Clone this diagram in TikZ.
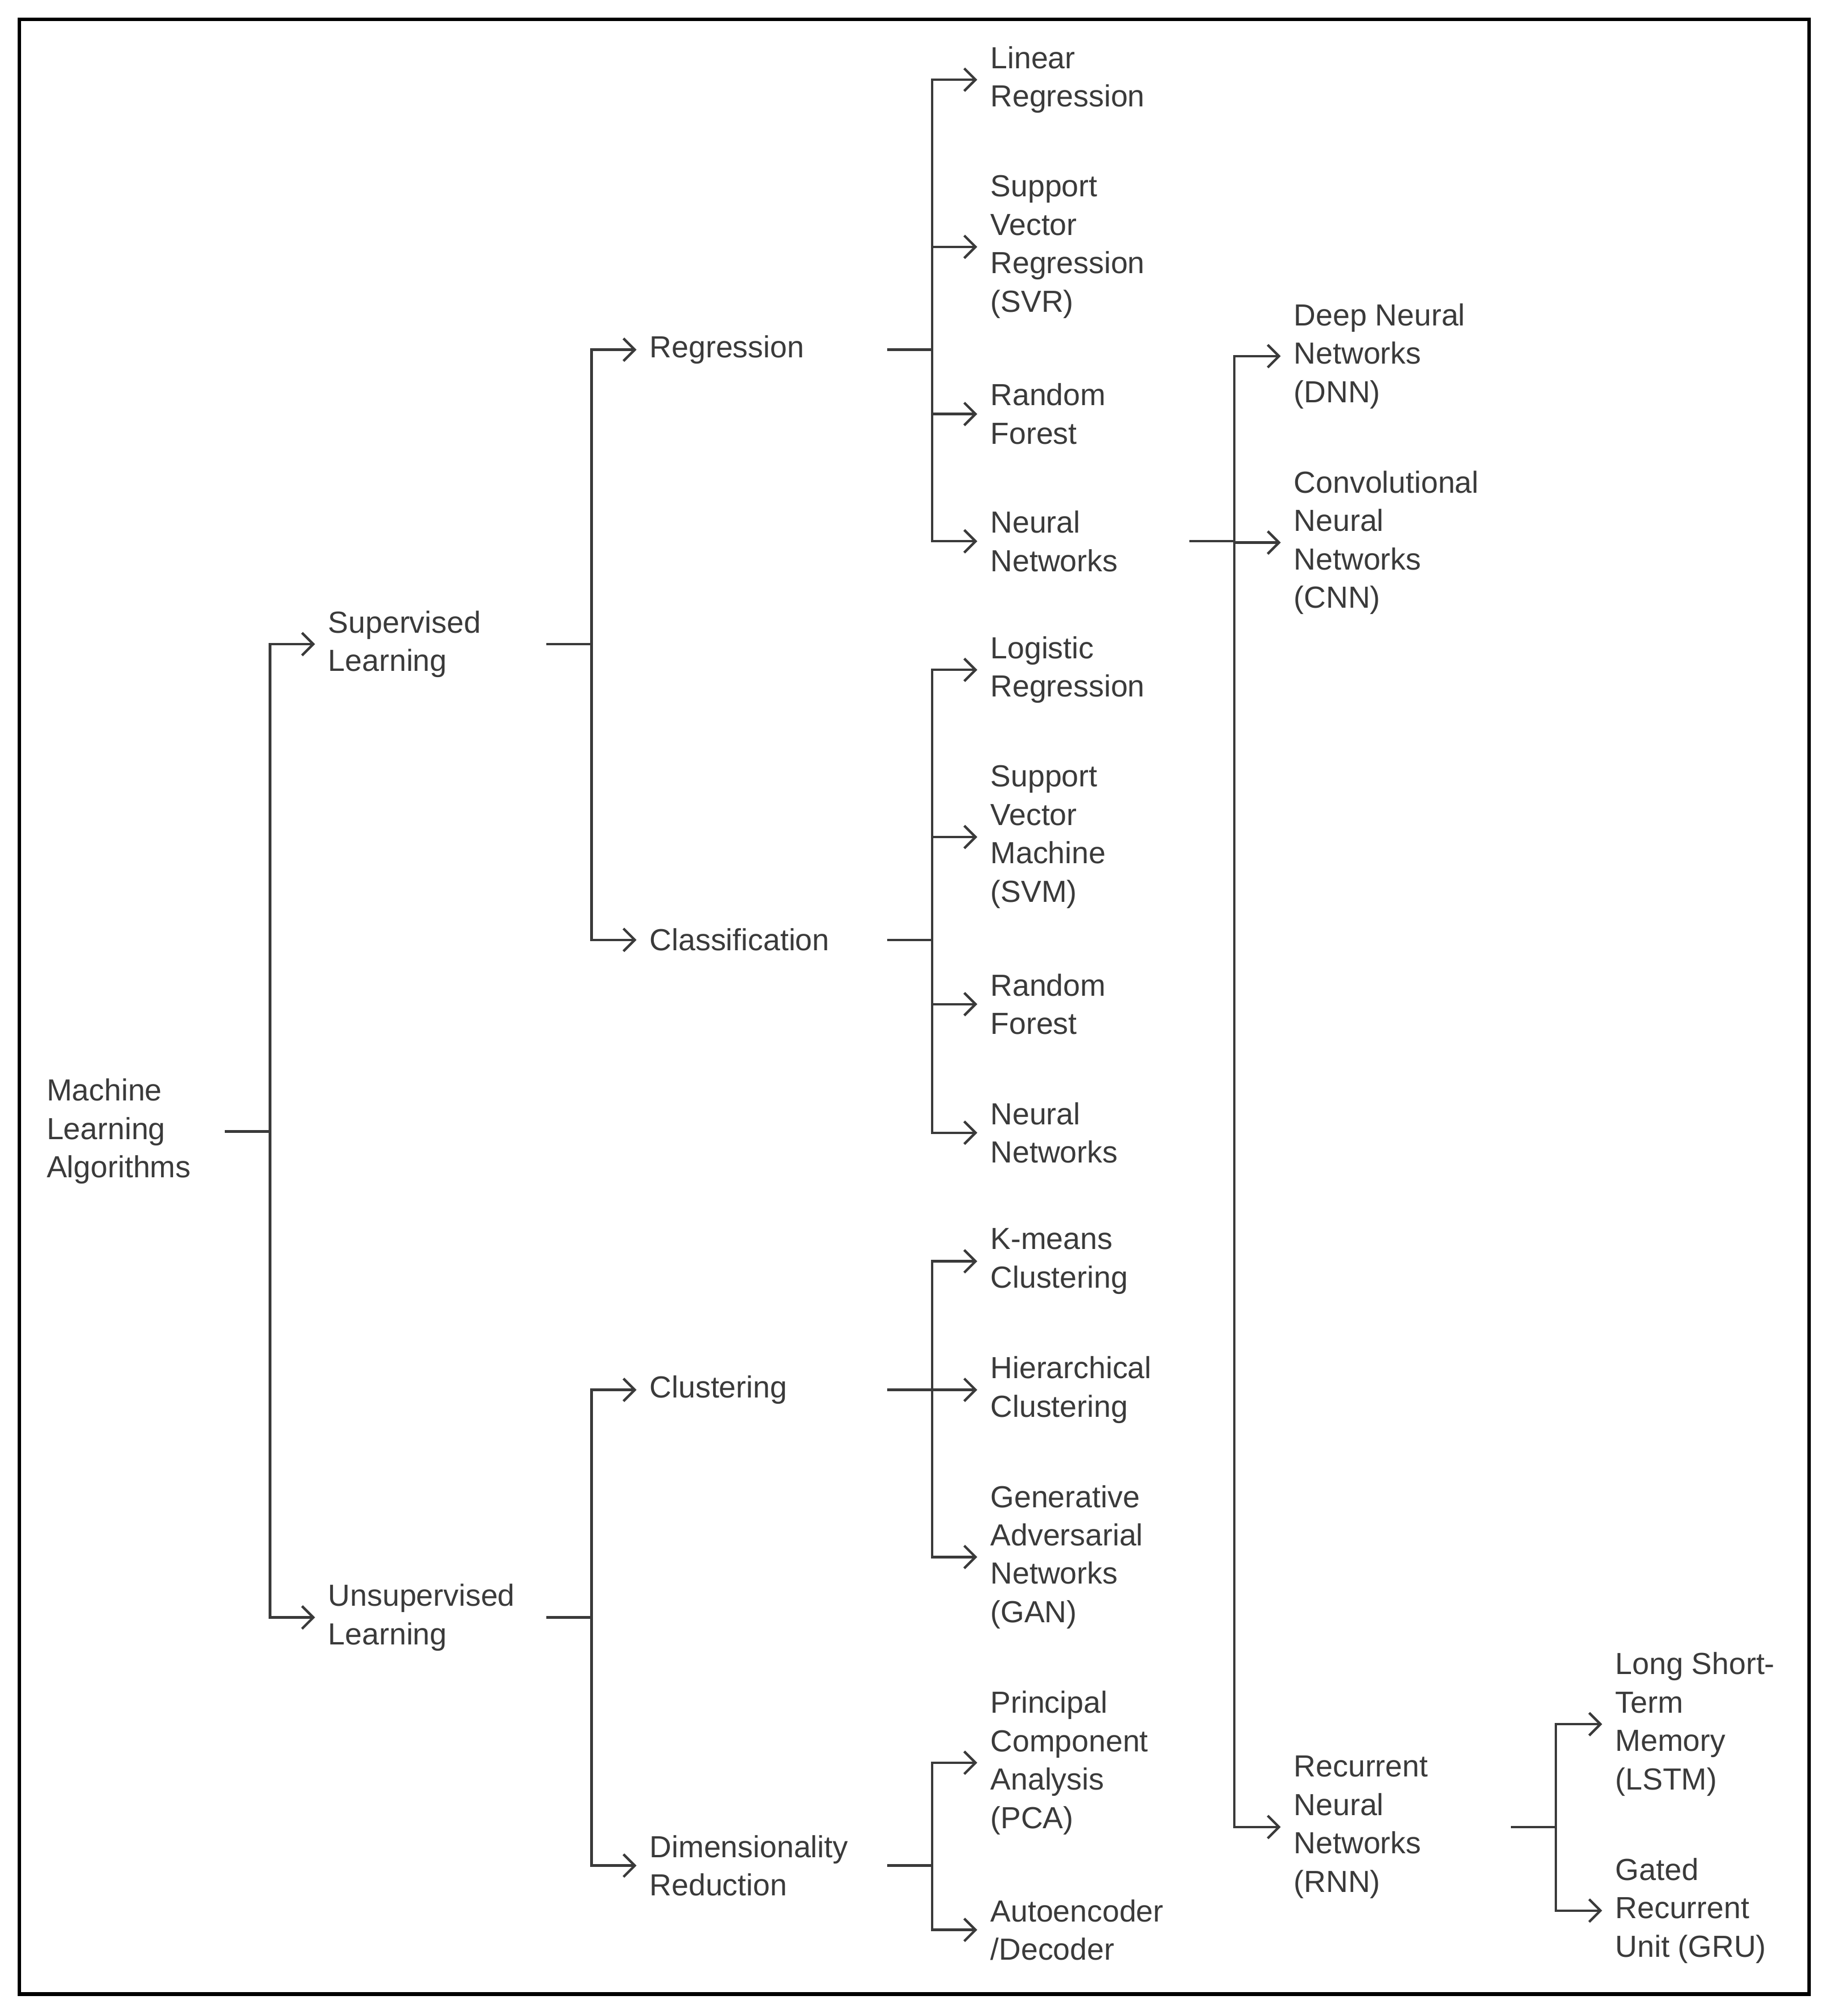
\documentclass[tikz,border=0pt]{standalone}
\usepackage{fontspec}
\setmainfont{Liberation Sans}
\usetikzlibrary{arrows.meta}
\definecolor{ink}{HTML}{3A3A3A}
\begin{document}
\begin{tikzpicture}[x=0.02cm,y=-0.02cm,
  txt/.style={anchor=west,align=left,inner sep=0pt,text=ink,font=\fontsize{13.5}{17}\selectfont},
  ln/.style={draw=ink,line width=1.1pt},
  ar/.style={ln,-{Straight Barb[length=5pt,width=10pt,line width=1.1pt]}}]
\useasboundingbox (0,0) rectangle (1422,1568);
\draw[line width=1.6pt,black] (15,15) rectangle (1407,1551);
% nodes
\node[txt] (ml) at (36,880) {Machine\\Learning\\Algorithms};
\node[txt] (sup) at (255,501) {Supervised\\Learning};
\node[txt] (uns) at (255,1258) {Unsupervised\\Learning};
\node[txt] (reg) at (505,272) {Regression};
\node[txt] (cla) at (505,731) {Classification};
\node[txt] (clu) at (505,1081) {Clustering};
\node[txt] (dim) at (505,1451) {Dimensionality\\Reduction};
\node[txt] (lr) at (770,62) {Linear\\Regression};
\node[txt] (svr) at (770,192) {Support\\Vector\\Regression\\(SVR)};
\node[txt] (rf1) at (770,322) {Random\\Forest};
\node[txt] (nn1) at (770,421) {Neural\\Networks};
\node[txt] (log) at (770,521) {Logistic\\Regression};
\node[txt] (svm) at (770,651) {Support\\Vector\\Machine\\(SVM)};
\node[txt] (rf2) at (770,781) {Random\\Forest};
\node[txt] (nn2) at (770,881) {Neural\\Networks};
\node[txt] (km) at (770,981) {K-means\\Clustering};
\node[txt] (hc) at (770,1081) {Hierarchical\\Clustering};
\node[txt] (gan) at (770,1211) {Generative\\Adversarial\\Networks\\(GAN)};
\node[txt] (pca) at (770,1371) {Principal\\Component\\Analysis\\(PCA)};
\node[txt] (ae) at (770,1501) {Autoencoder\\/Decoder};
\node[txt] (dnn) at (1006,277) {Deep Neural\\Networks\\(DNN)};
\node[txt] (cnn) at (1006,422) {Convolutional\\Neural\\Networks\\(CNN)};
\node[txt] (rnn) at (1006,1421) {Recurrent\\Neural\\Networks\\(RNN)};
\node[txt] (lstm) at (1256,1341) {Long Short-\\Term\\Memory\\(LSTM)};
\node[txt] (gru) at (1256,1486) {Gated\\Recurrent\\Unit (GRU)};
% stub starts
\coordinate (cml) at (175,880);
\coordinate (csup) at (425,501);
\coordinate (cuns) at (425,1258);
\coordinate (creg) at (690,272);
\coordinate (ccla) at (690,731);
\coordinate (cclu) at (690,1081);
\coordinate (cdim) at (690,1451);
\coordinate (cnn1) at (925,421);
\coordinate (crnn) at (1175,1421);
% branches: #1 stub start, #2 junction x, list of children
\newcommand\mybranch[3]{%
  \draw[ln] (#1) -- (#1 -| #2,0);
  \foreach \c in {#3}{\draw[ar] (#1 -| #2,0) |- ([xshift=-10\pgflinewidth]\c.west);}}
\draw[ln] (cml) -- (210,880);
\foreach \c in {sup,uns} \draw[ar] (210,880) |- ([xshift=-0.2cm]\c.west);
\draw[ln] (csup) -- (460,501);
\foreach \c in {reg,cla} \draw[ar] (460,501) |- ([xshift=-0.2cm]\c.west);
\draw[ln] (cuns) -- (460,1258);
\foreach \c in {clu,dim} \draw[ar] (460,1258) |- ([xshift=-0.2cm]\c.west);
\draw[ln] (creg) -- (725,272);
\foreach \c in {lr,svr,rf1,nn1} \draw[ar] (725,272) |- ([xshift=-0.2cm]\c.west);
\draw[ln] (ccla) -- (725,731);
\foreach \c in {log,svm,rf2,nn2} \draw[ar] (725,731) |- ([xshift=-0.2cm]\c.west);
\draw[ln] (cclu) -- (725,1081);
\foreach \c in {km,hc,gan} \draw[ar] (725,1081) |- ([xshift=-0.2cm]\c.west);
\draw[ln] (cdim) -- (725,1451);
\foreach \c in {pca,ae} \draw[ar] (725,1451) |- ([xshift=-0.2cm]\c.west);
\draw[ln] (cnn1) -- (960,421);
\foreach \c in {dnn,cnn,rnn} \draw[ar] (960,421) |- ([xshift=-0.2cm]\c.west);
\draw[ln] (crnn) -- (1210,1421);
\foreach \c in {lstm,gru} \draw[ar] (1210,1421) |- ([xshift=-0.2cm]\c.west);
\end{tikzpicture}
\end{document}
